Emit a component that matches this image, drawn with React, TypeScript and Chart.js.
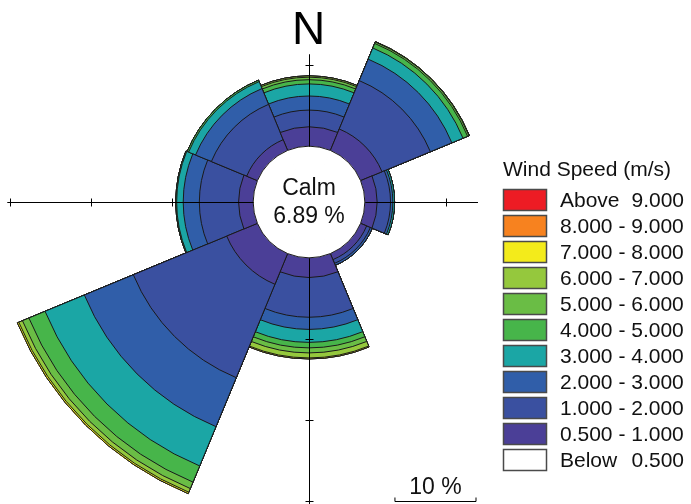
import React, { useEffect, useRef } from 'react';
import { Chart, registerables } from 'chart.js';

Chart.register(...registerables);

// Wind directions (8 sectors, clockwise from north)
const directions = ['N', 'NE', 'E', 'SE', 'S', 'SW', 'W', 'NW'];

// Calm share of all observations (%)
const calmPercent = 6.89;

// Frequency (%) of each wind speed class per direction
const speed0p5to1 = [2.39, 2.86, 1.52, 0.81, 2.43, 4.1, 1.8, 1.43];
const speed1to2 = [2.06, 6.46, 1.65, 0.5, 4.9, 12.47, 4.84, 4.72];
const speed2to3 = [1.74, 2.87, 0.29, 0.25, 1.5, 6.54, 1.99, 2.11];
const speed3to4 = [1.49, 1.49, 0.21, 0, 1.6, 5.25, 0.81, 0.93];
const speed4to5 = [0.52, 0.61, 0, 0, 0.68, 2.16, 0.1, 0.19];
const speed5to6 = [0.31, 0.19, 0, 0, 0.62, 0.86, 0, 0];
const speed6to7 = [0.16, 0.05, 0, 0, 0.62, 0.49, 0, 0];
const speed7to8 = [0, 0, 0, 0, 0.12, 0.19, 0, 0];
const speed8to9 = [0, 0, 0, 0, 0, 0, 0, 0];
const speedAbove9 = [0, 0, 0, 0, 0, 0, 0, 0];

// Speed classes, innermost first
const classLabels = [
  '0.500 - 1.000',
  '1.000 - 2.000',
  '2.000 - 3.000',
  '3.000 - 4.000',
  '4.000 - 5.000',
  '5.000 - 6.000',
  '6.000 - 7.000',
  '7.000 - 8.000',
  '8.000 - 9.000',
  'Above 9.000',
];
const classColors = [
  '#4B3F97',
  '#3A50A0',
  '#305EA9',
  '#1BA6A5',
  '#47B54A',
  '#6ABD45',
  '#95C83D',
  '#F3EB1B',
  '#F7821F',
  '#ED1C24',
];
const classValues = [
  speed0p5to1,
  speed1to2,
  speed2to3,
  speed3to4,
  speed4to5,
  speed5to6,
  speed6to7,
  speed7to8,
  speed8to9,
  speedAbove9,
];
const belowLabel = 'Below 0.500';
const belowColor = '#FFFFFF';

// Axis reach beyond the calm circle (%), order N, E, S, W
const axisReach = [11.4, 13.9, 30.4, 30.4];
// Axis tick marks beyond the calm circle (%)
const axisTicks = [10, 20, 30];
// Length of the scale bar (%)
const scaleBarPercent = 10;

const FONT = '"Liberation Sans", Arial, sans-serif';

const roseDecor = {
  id: 'roseDecor',
  afterDatasetsDraw(chart: any) {
    const scale = chart.scales.r;
    const ctx: CanvasRenderingContext2D = chart.ctx;
    const cx = scale.xCenter;
    const cy = scale.yCenter;
    const rad = (v: number) => scale.getDistanceFromCenterForValue(v);
    const rCalm = rad(calmPercent);

    ctx.save();

    // outline of the calm circle
    ctx.beginPath();
    ctx.arc(cx, cy, rCalm, 0, Math.PI * 2);
    ctx.strokeStyle = '#1a1a1a';
    ctx.lineWidth = 1;
    ctx.stroke();

    // compass axes with tick marks
    const dirs = [
      [0, -1],
      [1, 0],
      [0, 1],
      [-1, 0],
    ];
    ctx.strokeStyle = '#000';
    ctx.lineWidth = 1;
    const ox = cx + 0.5;
    const oy = cy + 0.5;
    axisReach.forEach((reach, k) => {
      const [dx, dy] = dirs[k];
      const rEnd = rad(calmPercent + reach);
      ctx.beginPath();
      ctx.moveTo(ox + dx * rCalm, oy + dy * rCalm);
      ctx.lineTo(ox + dx * rEnd, oy + dy * rEnd);
      ctx.stroke();
      axisTicks.forEach((t) => {
        if (t > reach) return;
        const r = Math.round(rad(calmPercent + t));
        const px = ox + dx * r;
        const py = oy + dy * r;
        ctx.beginPath();
        ctx.moveTo(px - dy * 4, py - dx * 4);
        ctx.lineTo(px + dy * 4, py + dx * 4);
        ctx.stroke();
      });
    });

    // north label
    ctx.fillStyle = '#000';
    ctx.font = `46px ${FONT}`;
    ctx.textAlign = 'center';
    ctx.textBaseline = 'alphabetic';
    ctx.fillText('N', cx - 0.5, 44);

    // calm label
    ctx.font = `23px ${FONT}`;
    ctx.fillStyle = '#111';
    ctx.fillText('Calm', cx, 195);
    ctx.fillText(`${calmPercent.toFixed(2)} %`, cx, 223);

    // scale bar
    const barLen = rad(calmPercent + scaleBarPercent) - rCalm;
    const barRight = 476;
    const barLeft = barRight - barLen;
    const barY = 501.5;
    ctx.beginPath();
    ctx.moveTo(barLeft, barY - 4);
    ctx.lineTo(barLeft, barY);
    ctx.lineTo(barRight, barY);
    ctx.lineTo(barRight, barY - 4);
    ctx.strokeStyle = '#000';
    ctx.stroke();
    ctx.fillText(`${scaleBarPercent} %`, (barLeft + barRight) / 2, 494);

    // legend
    const lx = 503;
    ctx.textAlign = 'left';
    ctx.font = `21px ${FONT}`;
    ctx.fillStyle = '#111';
    ctx.fillText('Wind Speed (m/s)', lx, 176);
    const items = [] as { label: string; color: string }[];
    for (let i = classLabels.length - 1; i >= 0; i--) {
      items.push({ label: classLabels[i], color: classColors[i] });
    }
    items.push({ label: belowLabel, color: belowColor });
    const boxW = 44;
    const boxH = 22;
    const step = 26;
    const top0 = 189;
    const textX = 560;
    const textRight = 684;
    items.forEach((it, i) => {
      const y = top0 + i * step;
      ctx.fillStyle = it.color;
      ctx.fillRect(lx, y, boxW, boxH);
      ctx.strokeStyle = '#4a4a4a';
      ctx.lineWidth = 1.5;
      ctx.strokeRect(lx + 0.5, y + 0.5, boxW - 1, boxH - 1);
      ctx.fillStyle = '#111';
      ctx.textBaseline = 'middle';
      const parts = it.label.split(' ');
      const yMid = y + boxH / 2 + 1;
      if (parts.length === 2) {
        ctx.textAlign = 'left';
        ctx.fillText(parts[0], textX, yMid);
        ctx.textAlign = 'right';
        ctx.fillText(parts[1], textRight, yMid);
      } else {
        ctx.textAlign = 'left';
        ctx.fillText(it.label, textX, yMid);
      }
    });

    ctx.restore();
  },
};

export default function App() {
  const canvasRef = useRef<HTMLCanvasElement | null>(null);

  useEffect(() => {
    if (!canvasRef.current) return;

    // cumulative rings: calm circle first, then each speed class stacked outward
    const datasets: any[] = [];
    datasets.push({
      label: 'Calm',
      data: directions.map(() => calmPercent),
      backgroundColor: '#FFFFFF',
      borderColor: '#FFFFFF',
      borderWidth: 2,
      borderAlign: 'inner',
      clip: false,
    });
    let running = directions.map(() => calmPercent);
    classValues.forEach((vals, k) => {
      running = running.map((v, i) => v + vals[i]);
      datasets.push({
        label: classLabels[k],
        data: running.slice(),
        backgroundColor: classColors[k],
        borderColor: '#1a1a1a',
        borderWidth: 1,
        clip: false,
      });
    });

    const chart = new Chart(canvasRef.current, {
      type: 'polarArea',
      data: { labels: directions, datasets },
      options: {
        animation: false,
        responsive: true,
        maintainAspectRatio: false,
        events: [],
        layout: { padding: { left: 108, right: 181, top: 1, bottom: 101 } },
        plugins: {
          legend: { display: false },
          tooltip: { enabled: false },
        },
        scales: {
          r: {
            min: 0,
            max: 24.8,
            startAngle: -22.5,
            grid: { display: false },
            angleLines: { display: false },
            pointLabels: { display: false },
            ticks: { display: false },
          },
        },
      },
      plugins: [roseDecor],
    });

    return () => chart.destroy();
  }, []);

  return (
    <div style={{ position: 'absolute', left: 0, top: 0, width: 691, height: 504, background: '#fff' }}>
      <canvas ref={canvasRef} />
    </div>
  );
}
